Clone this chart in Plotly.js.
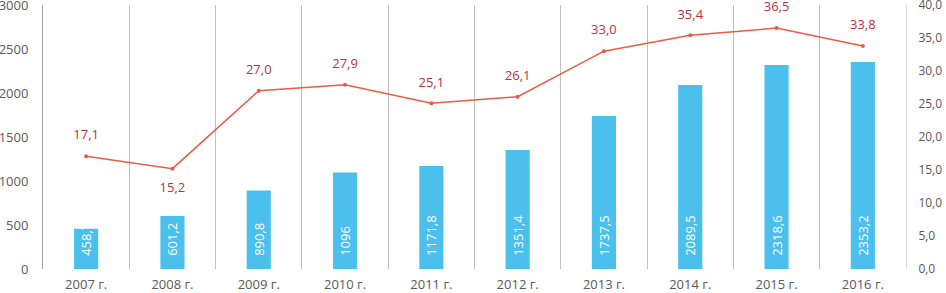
<!DOCTYPE html>
<html><head><meta charset="utf-8">
<script src="https://cdn.plot.ly/plotly-3.0.1.min.js"></script>
<style>html,body{margin:0;padding:0;background:#fff}#c{width:946px;height:293px}</style>
</head><body><div id="c"></div>
<script>
const categories = ["2007 г.","2008 г.","2009 г.","2010 г.","2011 г.","2012 г.","2013 г.","2014 г.","2015 г.","2016 г."];
const barValues = [458.7, 601.2, 890.8, 1096, 1171.8, 1351.4, 1737.5, 2089.5, 2318.6, 2353.2];
const barLabels = ["458,7","601,2","890,8","1096","1171,8","1351,4","1737,5","2089,5","2318,6","2353,2"];
const lineValues = [17.1, 15.2, 27.0, 27.9, 25.1, 26.1, 33.0, 35.4, 36.5, 33.8];
const lineLabels = ["17,1","15,2","27,0","27,9","25,1","26,1","33,0","35,4","36,5","33,8"];
const linePos = ["top center","bottom center","top center","top center","top center","top center","top center","top center","top center","top center"];

const font = "Open Sans, sans-serif";
const pad = "\u00a0\u00a0\u00a0";
const data = [
  {type:"bar", x:categories, y:barValues, text:barLabels.map(t => pad + t), textposition:"inside",
   insidetextanchor:"start", textangle:-90, constraintext:"none",
   textfont:{color:"#ffffff", size:13, family:font},
   marker:{color:"#4BC0EC"}, cliponaxis:false, hoverinfo:"none"},
  {type:"scatter", mode:"lines+markers", x:categories, y:lineValues, yaxis:"y2",
   line:{color:"#EC5A44", width:1.5}, marker:{color:"#EC5A44", size:4},
   cliponaxis:false, hoverinfo:"none"},
  {type:"scatter", mode:"markers+text", x:categories, y:lineValues, yaxis:"y2",
   text:lineLabels, textposition:linePos,
   textfont:{color:"#B8303A", size:13, family:font},
   marker:{color:"rgba(0,0,0,0)", size:20},
   cliponaxis:false, hoverinfo:"none"}
];
const layout = {
  width:946, height:293, margin:{l:43, r:40, t:5, b:24},
  paper_bgcolor:"#fff", plot_bgcolor:"#fff", showlegend:false,
  separators:", ", bargap:0.72,
  font:{family:font, size:13, color:"#595959"},
  xaxis:{type:"category", range:[-0.5, categories.length - 0.5], tickson:"boundaries", showgrid:true,
    gridcolor:"#BFBFBF", gridwidth:1, automargin:false, ticklabeloverflow:"allow",
    ticks:"", showline:false, zeroline:false, ticklabelstandoff:6, tickfont:{size:13, color:"#595959"}},
  yaxis:{range:[0,3000], tickvals:[0,500,1000,1500,2000,2500,3000], showgrid:false, zeroline:false,
    showline:true, linecolor:"#A6A6A6", linewidth:1,
    automargin:false, ticklabeloverflow:"allow",
    ticks:"", ticklabelstandoff:11, tickfont:{size:13, color:"#595959"}},
  yaxis2:{range:[0,40], tickvals:[0,5,10,15,20,25,30,35,40], overlaying:"y", side:"right", showgrid:false,
    showline:true, linecolor:"#D9D9D9", linewidth:1,
    automargin:false, ticklabeloverflow:"allow",
    zeroline:false, ticks:"", tickformat:".1f", ticklabelstandoff:9,
    tickfont:{size:12, color:"#595959"}}
};
Plotly.newPlot("c", data, layout, {displayModeBar:false, staticPlot:true});
</script></body></html>
